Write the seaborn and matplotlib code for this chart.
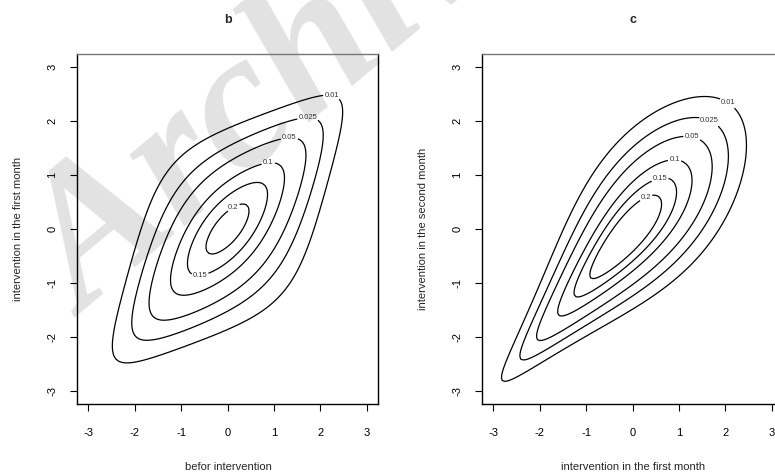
import numpy as np
import matplotlib
matplotlib.use('Agg')
import matplotlib.pyplot as plt
import seaborn as sns
from math import erf, gamma, pi

# ── data ──────────────────────────────────────────────────────────────────
# contour levels drawn in each panel
levels_b = [0.01, 0.025, 0.05, 0.1, 0.15, 0.2]
levels_c = [0.01, 0.025, 0.05, 0.1, 0.15, 0.2]
# copula parameters (standard normal margins)
rho_t, nu_t = 0.6, 4          # panel b: t copula
theta_gumbel = 2.2            # panel c: survival Gumbel copula
grid_lim = [-3, 3]
grid_n = 121
ticks = [-3, -2, -1, 0, 1, 2, 3]

xlab_b = 'befor intervention'
ylab_b = 'intervention in the first month'
xlab_c = 'intervention in the first month'
ylab_c = 'intervention in the second month'

# ── density on grid ───────────────────────────────────────────────────────
erf_v = np.vectorize(erf)
g = np.linspace(grid_lim[0], grid_lim[1], grid_n)
X, Y = np.meshgrid(g, g)
U = 0.5 * (1 + erf_v(X / np.sqrt(2)))
V = 0.5 * (1 + erf_v(Y / np.sqrt(2)))
phi = np.exp(-X**2 / 2) * np.exp(-Y**2 / 2) / (2 * np.pi)

def t_pdf(s, nu):
    return gamma((nu + 1) / 2) / (gamma(nu / 2) * np.sqrt(nu * pi)) * (1 + s**2 / nu)**(-(nu + 1) / 2)

def t_quantile(u, nu):
    w = np.linspace(-pi / 2 + 1e-6, pi / 2 - 1e-6, 40001)
    s = np.tan(w)
    f = t_pdf(s, nu) * (1 + s**2)
    cdf = np.concatenate([[0], np.cumsum((f[1:] + f[:-1]) / 2 * np.diff(w))])
    cdf /= cdf[-1]
    return np.interp(u, cdf, s)

def t_cop(u, v, rho, nu):
    s, t = t_quantile(u, nu), t_quantile(v, nu)
    q = (s**2 - 2 * rho * s * t + t**2) / (nu * (1 - rho**2))
    f2 = gamma((nu + 2) / 2) / (gamma(nu / 2) * nu * pi * np.sqrt(1 - rho**2)) * (1 + q)**(-(nu + 2) / 2)
    return f2 / (t_pdf(s, nu) * t_pdf(t, nu))

def gumbel(u, v, th):
    a, b = -np.log(u), -np.log(v)
    A = a**th + b**th
    C = np.exp(-A**(1 / th))
    return C / (u * v) * (a * b)**(th - 1) * A**(2 / th - 2) * (1 + (th - 1) * A**(-1 / th))

Zb = t_cop(U, V, rho_t, nu_t) * phi
Zc = gumbel(1 - U, 1 - V, theta_gumbel) * phi

# ── figure ────────────────────────────────────────────────────────────────
sns.set_style('white')
plt.rcParams['font.family'] = ['Liberation Sans', 'DejaVu Sans']
W, H = 775, 474
fig = plt.figure(figsize=(W / 100, H / 100), dpi=100)

# faint watermark behind the panels (cut by the top edge, as in the source)
fig.text(85 / W, 1 - 318 / H, 'Archive', fontsize=140, family='Liberation Serif',
         fontweight='bold', fontstyle='italic', color='#e2e2e2', rotation=40,
         rotation_mode='anchor', ha='left', va='baseline', zorder=-5)

def panel(left, Z, levels, lab_pos, title, xlab, ylab):
    ax = fig.add_axes([left / W, 1 - 404 / H, 301 / W, 350 / H])
    ax.patch.set_alpha(0)
    cs = ax.contour(X, Y, Z, levels=levels, colors='black', linewidths=0.9)
    labs = ax.clabel(cs, fmt='%g', fontsize=5.5, inline=True, inline_spacing=2,
                     manual=lab_pos, colors='#333333')
    for t in labs:
        t.set_rotation(0)
    ax.set_xlim(-3.24, 3.24); ax.set_ylim(-3.24, 3.24)
    ax.set_xticks(ticks); ax.set_yticks(ticks)
    ax.set_xticklabels([str(t) for t in ticks])
    ax.set_yticklabels([str(t) for t in ticks], rotation=90, va='center')
    ax.tick_params(bottom=True, left=True, direction='out', length=5, width=0.8,
                   labelsize=8, pad=9, colors='black')
    ax.tick_params(axis='x', pad=12)
    for s in ['left', 'bottom', 'right']:
        ax.spines[s].set_color('black'); ax.spines[s].set_linewidth(1)
    ax.spines['top'].set_color('#777777'); ax.spines['top'].set_linewidth(1)
    cx = left + 151
    fig.text(cx / W, 1 - 20 / H, title, ha='center', va='center',
             fontsize=9, fontweight='bold')
    fig.text(cx / W, 1 - 467 / H, xlab, ha='center', va='center', fontsize=8)
    fig.text((left - 59) / W, 1 - 229 / H, ylab, ha='center', va='center',
             rotation=90, fontsize=8)
    return ax

pos_b = [(2.24, 2.43), (1.73, 1.96), (1.34, 1.57), (0.89, 1.13), (-0.6, -0.8), (0.17, 0.34)]
pos_c = [(2.11, 2.41), (1.64, 1.98), (1.27, 1.65), (0.9, 1.2), (0.62, 0.83), (0.35, 0.48)]
panel(77, Zb, levels_b, pos_b, 'b', xlab_b, ylab_b)
panel(482, Zc, levels_c, pos_c, 'c', xlab_c, ylab_c)

fig.savefig('out.png', dpi=100)
